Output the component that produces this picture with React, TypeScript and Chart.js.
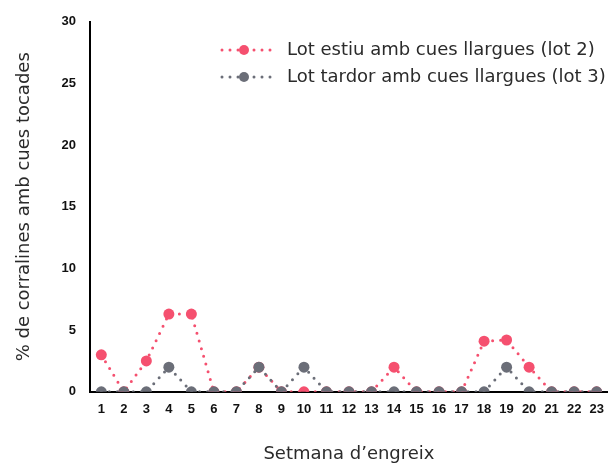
import React, { useEffect, useRef } from "react";
import { Chart, registerables } from "chart.js";

Chart.register(...registerables);

const weeks = ["1","2","3","4","5","6","7","8","9","10","11","12","13","14","15","16","17","18","19","20","21","22","23"];
const lot2Label = "Lot estiu amb cues llargues (lot 2)";
const lot3Label = "Lot tardor amb cues llargues (lot 3)";
const lot2 = [3, 0, 2.5, 6.3, 6.3, 0, 0, 2, 0, 0, 0, 0, 0, 2, 0, 0, 0, 4.1, 4.2, 2, 0, 0, 0];
const lot3 = [0, 0, 0, 2, 0, 0, 0, 2, 0, 2, 0, 0, 0, 0, 0, 0, 0, 0, 2, 0, 0, 0, 0];
const yTicks = [0, 5, 10, 15, 20, 25, 30];

const PINK = "#f5506f";
const GREY = "#6b6e78";
const TEXT_COLOR = "#2b2b2b";
const TEXT_FONT = "'DejaVu Sans', sans-serif";
const TICK_FONT = "'Liberation Sans Narrow', 'Liberation Sans', Arial, sans-serif";

const legendPlugin = {
  id: "customLegend",
  afterDraw(chart: any) {
    const ctx = chart.ctx;
    const items = chart.data.datasets.map((d: any) => ({ label: d.label, color: d.borderColor }));
    const order = [0, 1];
    const x0 = 222;
    const y0 = 50;
    const gap = 27;
    ctx.save();
    order.forEach((idx, i) => {
      const it = items[idx];
      const y = y0 + i * gap;
      ctx.strokeStyle = it.color;
      ctx.fillStyle = it.color;
      ctx.lineWidth = 3;
      ctx.lineCap = "round";
      ctx.setLineDash([0, 8]);
      ctx.beginPath();
      ctx.moveTo(x0, y);
      ctx.lineTo(x0 + 56, y);
      ctx.stroke();
      ctx.setLineDash([]);
      ctx.beginPath();
      ctx.arc(x0 + 22, y, 5, 0, Math.PI * 2);
      ctx.fill();
      ctx.fillStyle = TEXT_COLOR;
      ctx.font = "18px " + TEXT_FONT;
      ctx.textBaseline = "middle";
      ctx.textAlign = "left";
      ctx.fillText(it.label, x0 + 65, y);
    });
    ctx.restore();
  },
};

export default function App() {
  const ref = useRef<HTMLCanvasElement | null>(null);
  useEffect(() => {
    if (!ref.current) return;
    const common = {
      fill: false,
      borderWidth: 3,
      borderDash: [0, 8],
      borderCapStyle: "round" as const,
      tension: 0,
      pointRadius: 5.5,
      pointHoverRadius: 5.5,
      pointBorderWidth: 0,
    };
    const chart = new Chart(ref.current, {
      type: "line",
      data: {
        labels: weeks,
        datasets: [
          {
            ...common,
            label: lot2Label,
            data: lot2,
            borderColor: PINK,
            backgroundColor: PINK,
            pointBackgroundColor: PINK,
            order: 2,
          },
          {
            ...common,
            label: lot3Label,
            data: lot3,
            borderColor: GREY,
            backgroundColor: GREY,
            pointBackgroundColor: GREY,
            order: 1,
          },
        ],
      },
      options: {
        animation: false,
        responsive: true,
        maintainAspectRatio: false,
        layout: { padding: { top: 13, right: 3, left: 14, bottom: 4 } },
        plugins: {
          legend: { display: false },
          tooltip: { enabled: false },
        },
        scales: {
          x: {
            offset: true,
            grid: { display: false, drawTicks: false },
            border: { display: true, color: "#000", width: 2 },
            ticks: {
              color: "#111",
              padding: 10,
              autoSkip: false,
              maxRotation: 0,
              font: { family: TICK_FONT, size: 13, weight: "bold" },
            },
            title: {
              display: true,
              text: "Setmana d’engreix",
              color: TEXT_COLOR,
              padding: { top: 16, bottom: 0 },
              font: { family: TEXT_FONT, size: 18 },
            },
          },
          y: {
            min: 0,
            max: 30,
            afterBuildTicks: (axis: any) => {
              axis.ticks = yTicks.map((v) => ({ value: v }));
            },
            grid: { display: false, drawTicks: false },
            border: { display: true, color: "#000", width: 2 },
            ticks: {
              color: "#111",
              padding: 14,
              font: { family: TICK_FONT, size: 13, weight: "bold" },
            },
            title: {
              display: true,
              text: "% de corralines amb cues tocades",
              color: TEXT_COLOR,
              padding: { top: 0, bottom: 12 },
              font: { family: TEXT_FONT, size: 18 },
            },
          },
        },
      },
      plugins: [legendPlugin],
    });
    return () => chart.destroy();
  }, []);
  return (
    <div style={{ position: "fixed", left: 0, top: 0, width: 614, height: 469, background: "#fff" }}>
      <canvas ref={ref} />
    </div>
  );
}
